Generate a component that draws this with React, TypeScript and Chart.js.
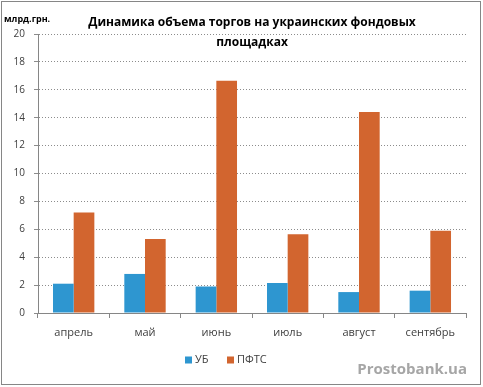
import React, { useEffect, useRef } from "react";
import { Chart, registerables } from "chart.js";

Chart.register(...registerables);

const categories = ["апрель", "май", "июнь", "июль", "август", "сентябрь"];
const ubValues = [2.1, 2.8, 1.9, 2.15, 1.5, 1.6];
const pftsValues = [7.2, 5.3, 16.65, 5.65, 14.4, 5.9];
const seriesNames = ["УБ", "ПФТС"];
const titleLines = ["Динамика объема торгов на украинских фондовых", "площадках"];
const unitLabel = "млрд.грн.";
const watermark = "Prostobank.ua";

const BLUE = "#2E96D0";
const ORANGE = "#D2652F";
const FONT = "'Open Sans', 'Noto Sans', sans-serif";

const decorPlugin = {
  id: "decor",
  afterDraw(chart: any) {
    const ctx = chart.ctx as CanvasRenderingContext2D;
    const area = chart.chartArea;
    const cx = (area.left + area.right) / 2;
    ctx.save();
    // border
    ctx.strokeStyle = "#868686";
    ctx.lineWidth = 1;
    ctx.strokeRect(1.5, 1.5, 479, 383);
    // title
    ctx.fillStyle = "#000";
    ctx.font = `bold 12px ${FONT}`;
    ctx.textAlign = "center";
    ctx.textBaseline = "middle";
    ctx.fillText(titleLines[0], cx, 23);
    ctx.fillText(titleLines[1], cx, 43);
    // unit label
    ctx.font = `bold 9px ${FONT}`;
    ctx.textAlign = "left";
    ctx.fillText(unitLabel, 4, 19);
    // legend
    ctx.font = `11px ${FONT}`;
    ctx.textBaseline = "middle";
    const ly = 360;
    const items = [
      { name: seriesNames[0], color: BLUE, x: 185 },
      { name: seriesNames[1], color: ORANGE, x: 227 },
    ];
    for (const it of items) {
      ctx.fillStyle = it.color;
      ctx.fillRect(it.x, ly - 3.5, 7, 7);
      ctx.fillStyle = "#404040";
      ctx.fillText(it.name, it.x + 10, ly);
    }
    // watermark
    ctx.font = `bold 15px ${FONT}`;
    ctx.fillStyle = "#A6A6A6";
    ctx.textAlign = "right";
    ctx.fillText(watermark, 467, 370);
    ctx.restore();
  },
};

export default function App() {
  const ref = useRef<HTMLCanvasElement | null>(null);
  useEffect(() => {
    document.body.style.margin = "0";
    const canvas = ref.current!;
    const chart = new Chart(canvas, {
      type: "bar",
      data: {
        labels: categories,
        datasets: [
          { label: seriesNames[0], data: ubValues, backgroundColor: BLUE },
          { label: seriesNames[1], data: pftsValues, backgroundColor: ORANGE },
        ],
      },
      options: {
        animation: false,
        responsive: false,
        maintainAspectRatio: false,
        layout: { padding: { left: 0, right: 17, top: 34, bottom: 0 } },
        datasets: { bar: { categoryPercentage: 0.58, barPercentage: 1 } },
        plugins: {
          legend: { display: false },
          title: { display: false },
          tooltip: { enabled: false },
        },
        scales: {
          x: {
            offset: true,
            afterFit(s: any) {
              s.height = 387 - 313;
            },
            grid: {
              offset: true,
              drawOnChartArea: false,
              drawTicks: true,
              tickLength: 5,
              color: "#868686",
            },
            border: { display: true, color: "#868686" },
            ticks: {
              color: "#404040",
              font: { family: FONT, size: 11 },
              padding: 8,
            },
          },
          y: {
            min: 0,
            max: 20,
            afterFit(s: any) {
              s.width = 38;
            },
            grid: {
              color: "#8C8C8C",
              tickLength: 4,
            } as any,
            border: { display: true, color: "#868686", dash: [1, 2] } as any,
            ticks: {
              stepSize: 2,
              color: "#404040",
              font: { family: FONT, size: 10 },
              padding: 9,
            },
          },
        },
      },
      plugins: [decorPlugin],
    } as any);
    return () => chart.destroy();
  }, []);
  return <canvas ref={ref} width={483} height={387} style={{ display: "block" }} />;
}
